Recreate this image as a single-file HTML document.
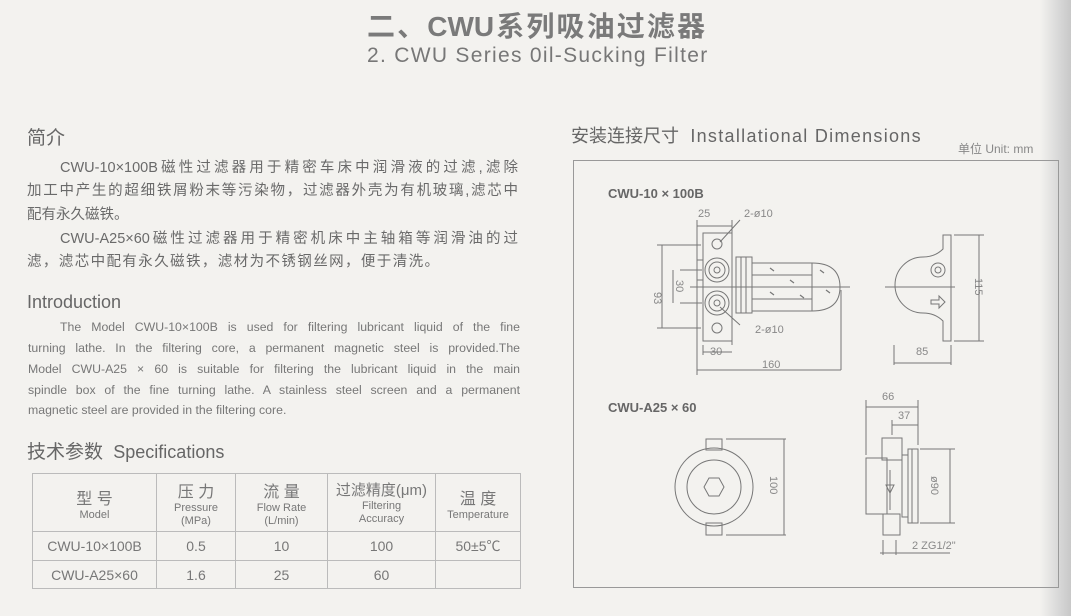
<!DOCTYPE html>
<html><head><meta charset="utf-8"><style>
body{margin:0;width:1071px;height:616px;overflow:hidden;background:#f3f2ef;position:relative;font-family:"Liberation Sans","Noto Sans CJK SC",sans-serif;color:#666}
.a{position:absolute;white-space:nowrap}
.cn{font-size:14.5px;color:#6a6a6a;text-align-last:justify}
.en{font-size:12.3px;color:#777}
table{position:absolute;left:32px;top:473px;border-collapse:collapse;color:#777}
td{border:1px solid #bbb;text-align:center;padding:0}
</style></head><body>
<div style="position:absolute;left:1040px;top:0;width:31px;height:616px;background:linear-gradient(90deg,#f3f2ef,#d8d8d8 60%,#c8c8c8)"></div>
<div class="a" style="left:367px;top:5px;width:338px;font-size:28px;font-weight:bold;color:#7a7a7a;text-align-last:justify">二、CWU系列吸油过滤器</div>
<div class="a" style="left:367px;top:44px;font-size:21px;color:#777;letter-spacing:1.3px">2. CWU Series 0il-Sucking Filter</div>

<div class="a" style="left:27px;top:123px;font-size:19px;color:#666">简介</div>
<div class="a cn" style="left:60px;top:156px;width:458px">CWU-10×100B磁性过滤器用于精密车床中润滑液的过滤,滤除</div>
<div class="a cn" style="left:27px;top:179px;width:491px">加工中产生的超细铁屑粉末等污染物，过滤器外壳为有机玻璃,滤芯中</div>
<div class="a cn" style="left:27px;top:203px">配有永久磁铁。</div>
<div class="a cn" style="left:60px;top:227px;width:458px">CWU-A25×60磁性过滤器用于精密机床中主轴箱等润滑油的过</div>
<div class="a cn" style="left:27px;top:250px;width:412px">滤，滤芯中配有永久磁铁，滤材为不锈钢丝网，便于清洗。</div>

<div class="a" style="left:27px;top:292px;font-size:18px;color:#666">Introduction</div>
<div class="a en" style="left:60px;top:320px;width:460px;text-align-last:justify">The Model CWU-10×100B is used for filtering lubricant liquid of the fine</div>
<div class="a en" style="left:28px;top:341px;width:492px;text-align-last:justify">turning lathe. In the filtering core, a permanent magnetic steel is provided.The</div>
<div class="a en" style="left:28px;top:362px;width:492px;text-align-last:justify">Model CWU-A25 × 60 is suitable for filtering the lubricant liquid in the main</div>
<div class="a en" style="left:28px;top:383px;width:492px;text-align-last:justify">spindle box of the fine turning lathe. A stainless steel screen and a permanent</div>
<div class="a en" style="left:28px;top:403px">magnetic steel are provided in the filtering core.</div>

<div class="a" style="left:27px;top:437px;font-size:19px;color:#666">技术参数 <span style="font-size:18px">&nbsp;Specifications</span></div>

<table>
<tr style="height:58px"><td style="width:123px"><div style="font-size:16px">型 号</div><div style="font-size:11px">Model</div></td>
<td style="width:78px"><div style="font-size:16px">压 力</div><div style="font-size:11px;line-height:13px">Pressure<br>(MPa)</div></td>
<td style="width:91px"><div style="font-size:16px">流 量</div><div style="font-size:11px;line-height:13px">Flow Rate<br>(L/min)</div></td>
<td style="width:107px"><div style="font-size:15px">过滤精度(μm)</div><div style="font-size:11px;line-height:13px">Filtering<br>Accuracy</div></td>
<td style="width:84px"><div style="font-size:16px">温 度</div><div style="font-size:11px">Temperature</div></td></tr>
<tr style="height:29px;font-size:14px"><td>CWU-10×100B</td><td>0.5</td><td>10</td><td>100</td><td>50±5℃</td></tr>
<tr style="height:28px;font-size:14px"><td>CWU-A25×60</td><td>1.6</td><td>25</td><td>60</td><td></td></tr>
</table>

<div class="a" style="left:571px;top:122px;font-size:18px;color:#666">安装连接尺寸 <span style="font-size:18px;letter-spacing:1.3px">&nbsp;Installational Dimensions</span></div>
<div class="a" style="left:958px;top:140px;font-size:12px;color:#888">单位 Unit: mm</div>

<svg style="position:absolute;left:0;top:0" width="1071" height="616" font-family="Liberation Sans" fill="none" stroke="#777" stroke-width="1">
<rect x="573.5" y="160.5" width="485" height="427" stroke="#999"/>
<text x="608" y="198" font-size="13" font-weight="bold" fill="#666" stroke="none">CWU-10 × 100B</text>
<text x="608" y="412" font-size="13" font-weight="bold" fill="#666" stroke="none">CWU-A25 × 60</text>
<g font-size="11" fill="#888" stroke="none">
<text x="698" y="217">25</text><text x="744" y="217">2-ø10</text><text x="755" y="333">2-ø10</text>
<text x="710" y="355">30</text><text x="762" y="368">160</text><text x="916" y="355">85</text>
<text x="882" y="400">66</text><text x="898" y="419">37</text><text x="912" y="549">2  ZG1/2"</text>
<text transform="translate(654,292) rotate(90)">93</text>
<text transform="translate(676,280) rotate(90)">30</text>
<text transform="translate(975,278) rotate(90)">115</text>
<text transform="translate(770,476) rotate(90)">100</text>
<text transform="translate(931,476) rotate(90)">ø90</text>
</g>
<rect x="703" y="233" width="29" height="108"/>
<circle cx="717" cy="244" r="5"/><circle cx="717" cy="328" r="5"/>
<circle cx="717" cy="270" r="12"/><circle cx="717" cy="270" r="8"/><circle cx="717" cy="270" r="3"/>
<circle cx="717" cy="303" r="12"/><circle cx="717" cy="303" r="8"/><circle cx="717" cy="303" r="3"/>
<rect x="697" y="260" width="6" height="20"/>
<rect x="736" y="257" width="16" height="56"/>
<path d="M741 257v56M746 257v56"/>
<rect x="752" y="263" width="60" height="48"/>
<path d="M752 275h60M752 287h60M752 299h60M812 263q28 0 28 24t-28 24"/>
<path d="M820 270l4 3M770 268l4 3M790 280l4 3M770 292l4 3M800 295l4 3M826 290l4 3" stroke-width="1.2"/>
<path d="M657 245h44M657 328h44M662 245v83M680 270h22M680 303h22M673 270v33M690 287h160M697 220v150M732 220v125M703 345v10M697 365v10M841 290v80M697 370h144M703 352h29M697 226h35M740 220l-20 22M740 325l-20-18"/>
<path d="M943 235h8v106h-8v-20q-8-8-20-8a28 28 0 0 1 0-56q12 0 20-8z"/>
<circle cx="938" cy="270" r="7"/><circle cx="938" cy="270" r="3"/>
<path d="M931 300h8v-4l6 6-6 6v-4h-8z"/>
<path d="M885 287h70M954 235h30M954 341h30M979 235v106M894 345v20M951 345v20M894 363h57"/>
<circle cx="714" cy="487" r="39"/><circle cx="714" cy="487" r="27"/>
<polygon points="704,487 709,478 719,478 724,487 719,496 709,496"/>
<rect x="706" y="439" width="16" height="11"/><rect x="706" y="523" width="16" height="12"/>
<path d="M726 439h60M726 535h60M784 439v96"/>
<rect x="866" y="458" width="21" height="56"/>
<rect x="882" y="438" width="20" height="22"/><rect x="883" y="514" width="17" height="21"/>
<rect x="908" y="449" width="10" height="74"/><rect x="902" y="455" width="6" height="62"/>
<path d="M912 449v74M890 470v40M886 485h8l-4 8z"/>
<path d="M866 400v55M918 400v45M866 407h52M892 420v15M892 425h26M920 449h35M920 523h35M950 449v74M883 540v15M896 540v15M880 553h70"/>
</svg>
</body></html>
